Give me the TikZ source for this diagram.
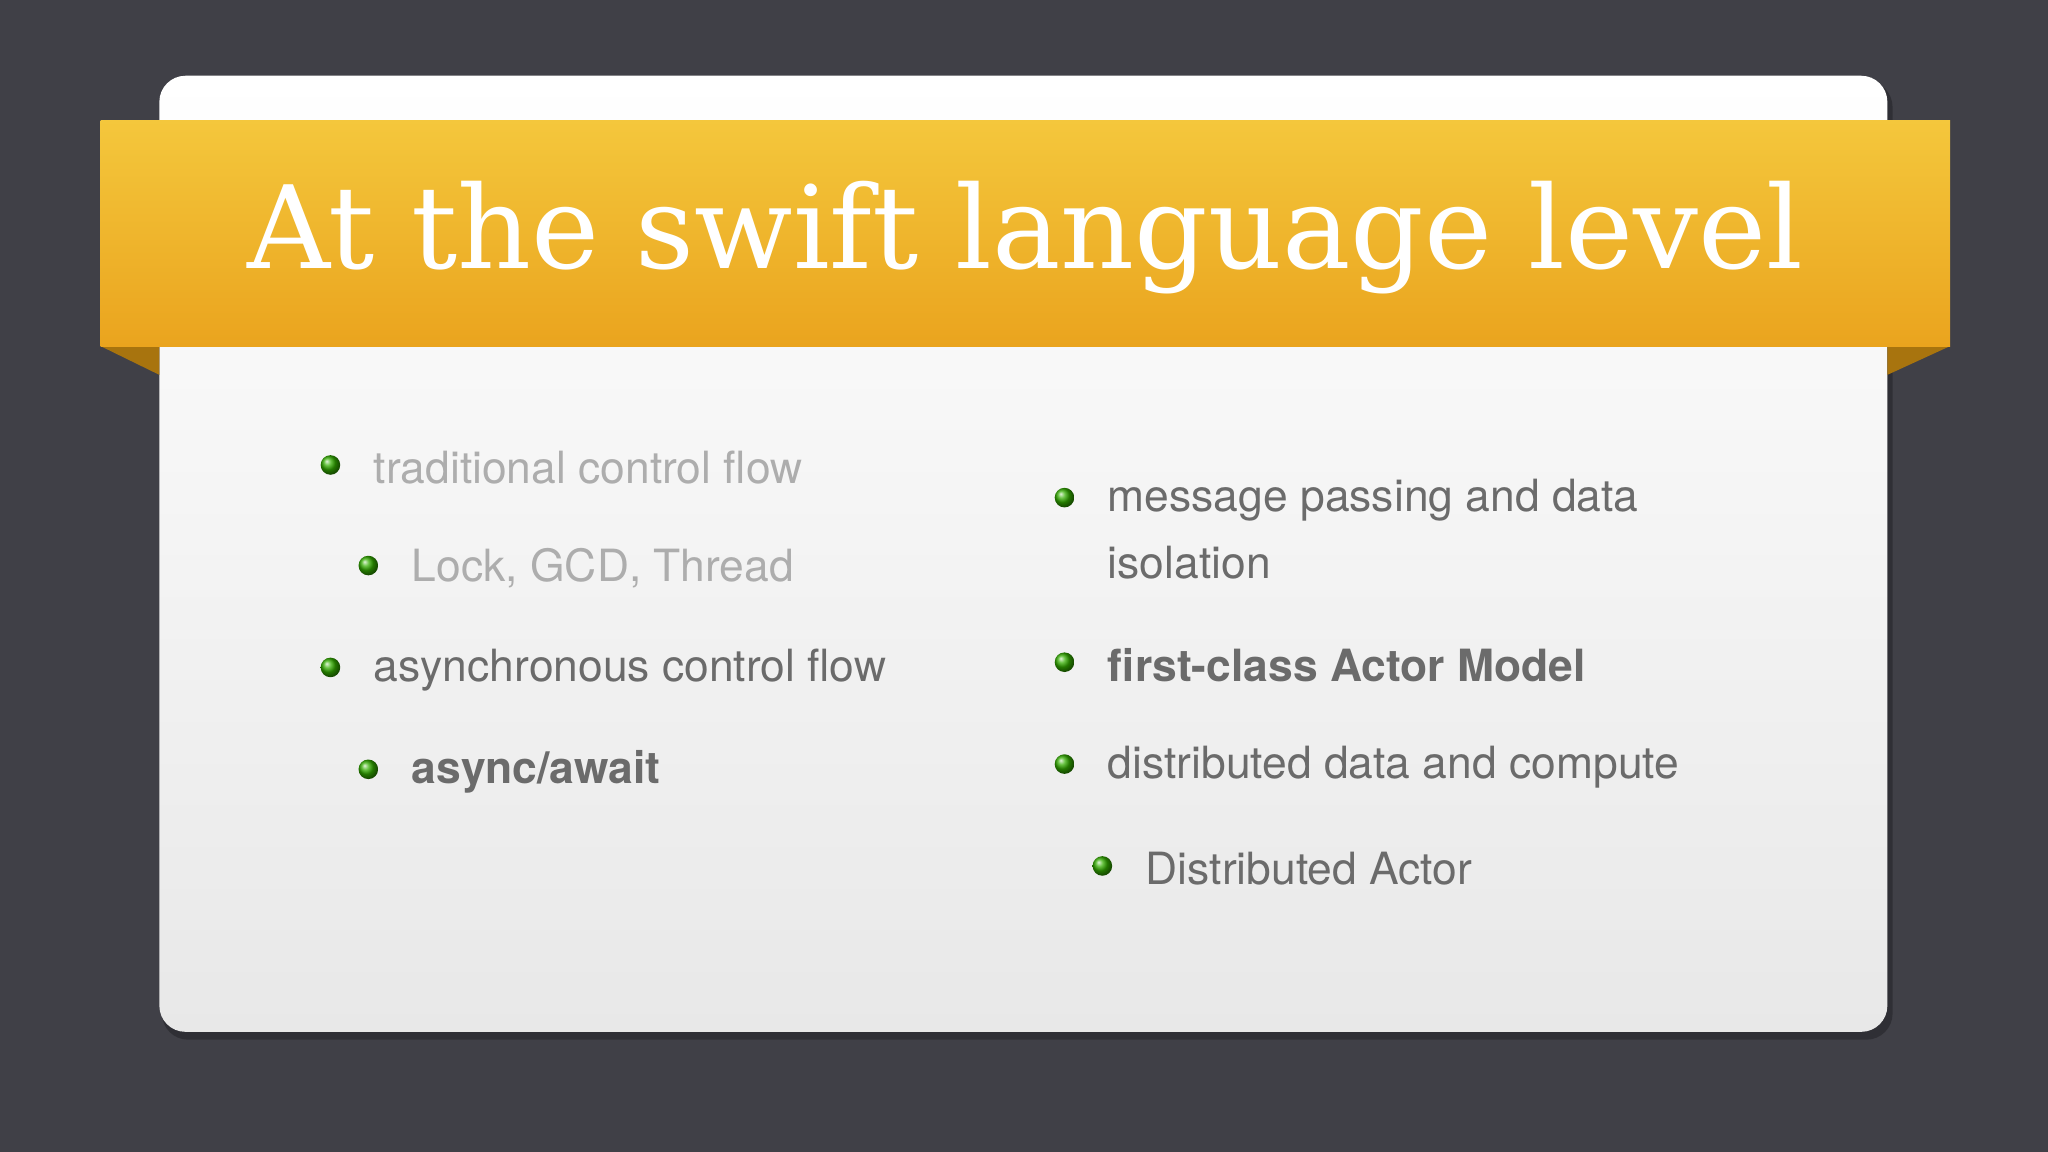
\documentclass[tikz,border=0pt]{standalone}
\usepackage{fontspec}
\setmainfont{TeX Gyre Heros}
\newfontfamily\titlefont{DejaVu Serif}
\begin{document}
\begin{tikzpicture}[x=1pt,y=-1pt,
  dot/.style={circle,inner sep=0pt,minimum size=15pt,ball color=green!60!black!80!yellow,draw=none},
  item/.style={anchor=west,font=\fontsize{34}{40}\selectfont,inner sep=0pt},
  faded/.style={item,text=black!32},
  normal/.style={item,text=black!58},
  boldi/.style={item,text=black!58,font=\fontsize{34}{40}\selectfont\bfseries}]
\definecolor{bg}{HTML}{404047}
\definecolor{ban1}{HTML}{F4C73C}
\definecolor{ban2}{HTML}{EAA41E}
\definecolor{fold}{HTML}{A8740E}
\fill[bg] (0,0) rectangle (1568,882);
\useasboundingbox (0,0) rectangle (1568,882);
\fill[black,opacity=0.25,rounded corners=20pt] (124,62) rectangle (1449,796);
\shade[top color=white,bottom color=black!9,rounded corners=20pt] (122,58) rectangle (1445,790);
\fill[fold] (77,265) -- (122,265) -- (122,287) -- cycle;
\fill[fold] (1493,265) -- (1445,265) -- (1445,287) -- cycle;
\shade[top color=ban1,bottom color=ban2] (77,92) rectangle (1493,265);
\node[text=white,font=\titlefont\fontsize{88}{96}\selectfont,inner sep=0pt] (title) at (785,182) {At the swift language level};
\node[dot] (d1) at (253,356) {}; \node[faded] (t1) at (286,358) {traditional control flow};
\node[dot] (d2) at (282,433) {}; \node[faded] (t2) at (315,435) {Lock, GCD, Thread};
\node[dot] (d3) at (253,511) {}; \node[normal] (t3) at (286,513) {asynchronous control flow};
\node[dot] (d4) at (282,589) {}; \node[boldi] (t4) at (315,591) {async/await};
\node[dot] (d5) at (815,381) {}; \node[normal] (t5) at (848,383) {message passing and data};
\node[normal] (t5b) at (848,431) {isolation};
\node[dot] (d6) at (815,507) {}; \node[boldi] (t6) at (848,509) {first-class Actor Model};
\node[dot] (d7) at (815,585) {}; \node[normal] (t7) at (848,587) {distributed data and compute};
\node[dot] (d8) at (844,663) {}; \node[normal] (t8) at (877,665) {Distributed Actor};
\end{tikzpicture}
\end{document}
